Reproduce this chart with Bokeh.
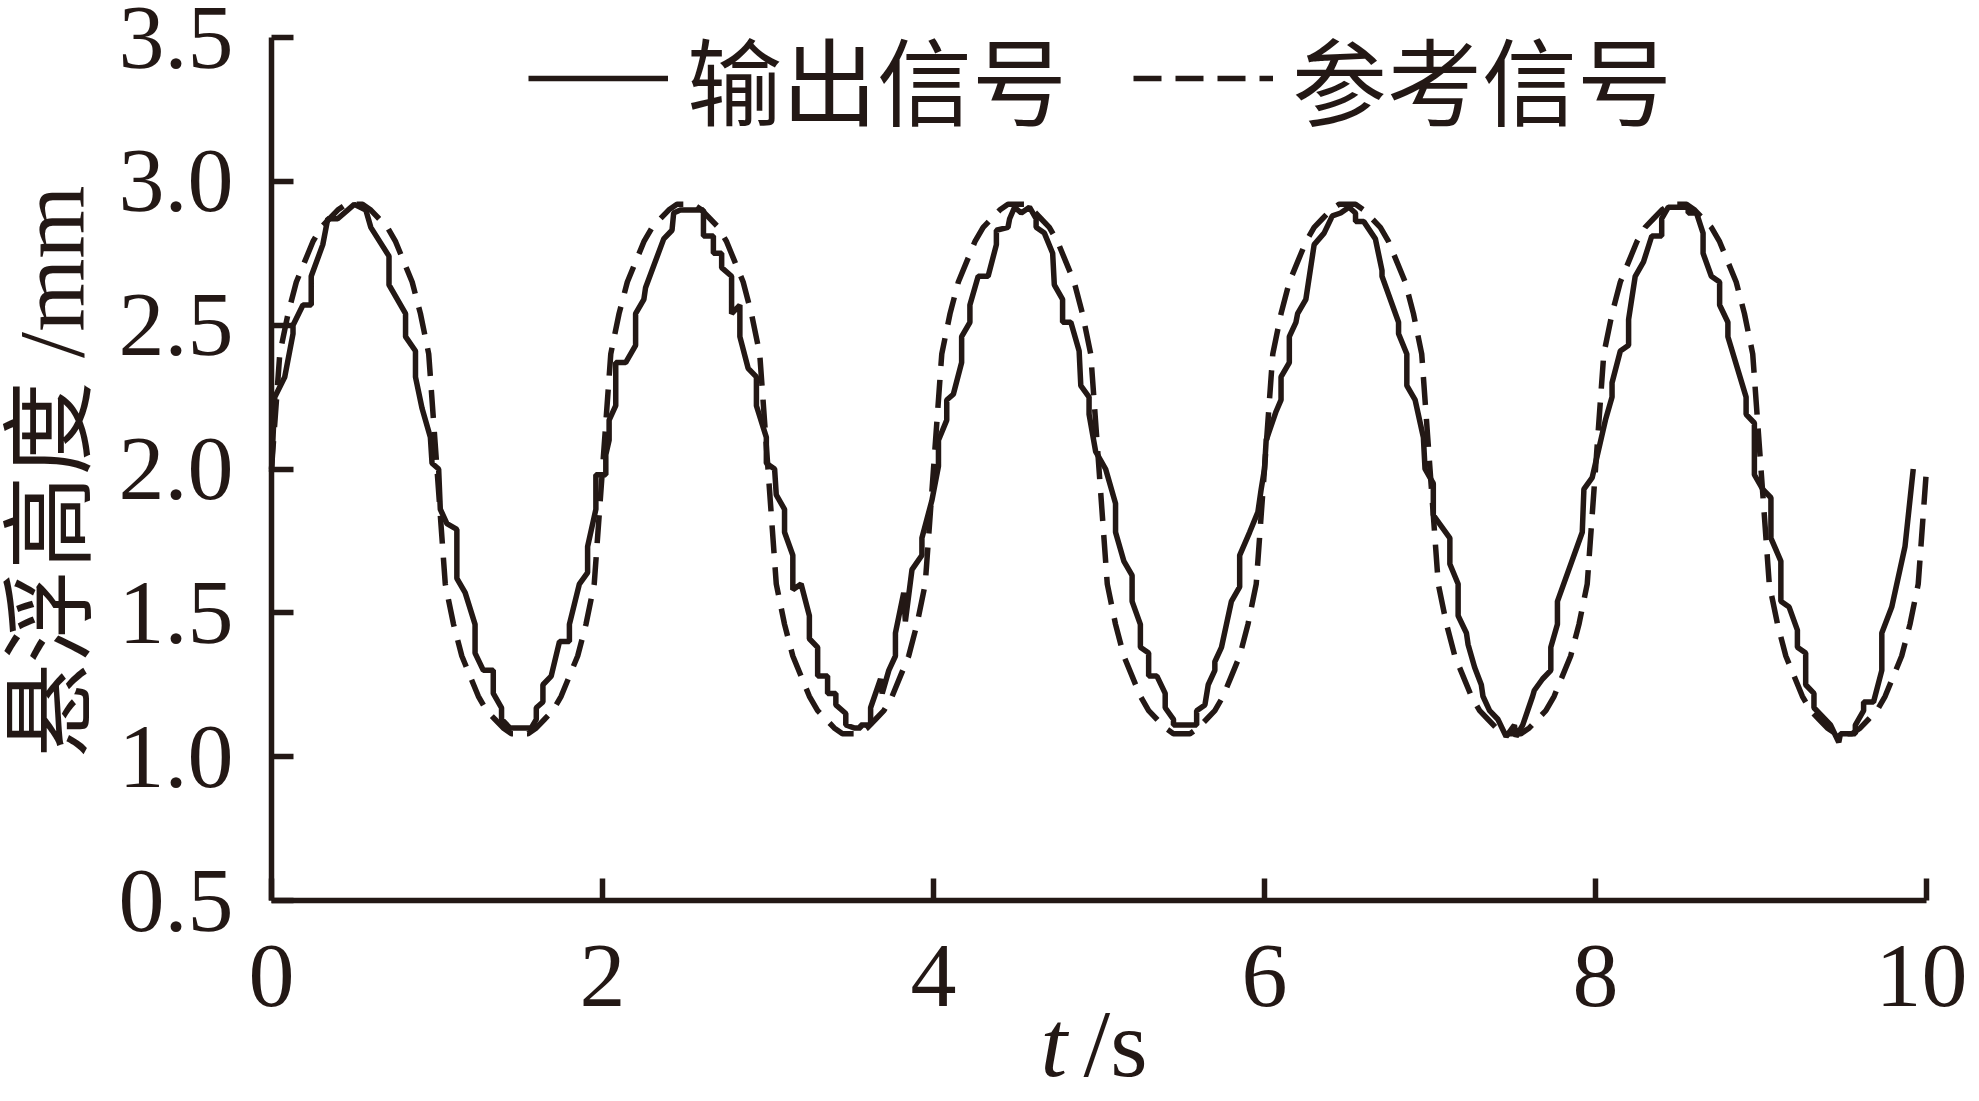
from bokeh.plotting import figure
from bokeh.models import (Range1d, FixedTicker, NumeralTickFormatter, Legend,
                          LegendItem, Label)
from bokeh.embed import file_html
from bokeh.resources import INLINE

# ---------------- data ----------------
x_ticks = [0, 2, 4, 6, 8, 10]
y_ticks = [0.5, 1.0, 1.5, 2.0, 2.5, 3.0, 3.5]
x_lim = (0, 10)
y_lim = (0.5, 3.5)
legend_labels = ["输出信号", "参考信号"]
y_label = "悬浮高度 /mm"
x_label_var = "t"
x_label_unit = "/s"

# output signal (solid, stair-stepped measurement)
out_t = [
    0.00, 0.01, 0.02, 0.08, 0.13, 0.13, 0.19, 0.24, 0.24, 0.31,
    0.34, 0.40, 0.50, 0.57, 0.60, 0.71, 0.71, 0.81, 0.81, 0.87,
    0.87, 0.91, 0.96, 0.97, 1.01, 1.02, 1.06, 1.12, 1.12, 1.17,
    1.23, 1.23, 1.28, 1.34, 1.34, 1.39, 1.39, 1.44, 1.57, 1.60,
    1.60, 1.64, 1.64, 1.69, 1.74, 1.80, 1.80, 1.86, 1.91, 1.91,
    1.96, 1.96, 2.02,
    2.02, 2.04, 2.04, 2.08, 2.08, 2.14, 2.20, 2.20, 2.25, 2.26,
    2.37, 2.42, 2.43, 2.47, 2.61, 2.61, 2.67, 2.67, 2.72, 2.72,
    2.78, 2.78, 2.83, 2.83, 2.88, 2.93, 2.93, 2.99, 2.99, 3.04,
    3.05, 3.10, 3.10, 3.15, 3.15, 3.20, 3.25, 3.25, 3.30, 3.30,
    3.36, 3.36, 3.41, 3.41, 3.47, 3.47, 3.52, 3.56, 3.56, 3.62,
    3.62, 3.68, 3.69, 3.73, 3.77, 3.77, 3.82, 3.83, 3.87, 3.93,
    3.93, 3.99, 4.03,
    4.03, 4.08, 4.08, 4.12, 4.17, 4.17, 4.22, 4.22, 4.27, 4.33,
    4.38, 4.38, 4.45, 4.46, 4.49, 4.53, 4.58, 4.62, 4.62, 4.67,
    4.72, 4.73, 4.78, 4.78, 4.83, 4.88, 4.89, 4.94, 4.94, 4.98,
    5.04, 5.10, 5.10, 5.15, 5.20, 5.20, 5.25, 5.25, 5.30, 5.30,
    5.35, 5.40, 5.40, 5.45, 5.45, 5.59, 5.59, 5.64, 5.66, 5.70,
    5.70, 5.74, 5.80, 5.85, 5.85, 5.91, 5.96, 5.98, 6.00,
    6.01, 6.07, 6.10, 6.10, 6.15, 6.15, 6.19, 6.20, 6.25, 6.30,
    6.36, 6.41, 6.46, 6.51, 6.55, 6.55, 6.60, 6.67, 6.71, 6.71,
    6.81, 6.81, 6.86, 6.86, 6.91, 6.96, 6.97, 7.02, 7.02, 7.12,
    7.12, 7.17, 7.17, 7.22, 7.23, 7.27, 7.31, 7.32, 7.36, 7.41,
    7.46, 7.51, 7.52, 7.56, 7.62, 7.63, 7.68, 7.73, 7.73, 7.77,
    7.77, 7.92, 7.93, 7.98,
    8.06, 8.10, 8.10, 8.15, 8.20, 8.20, 8.24, 8.29, 8.34, 8.40,
    8.40, 8.44, 8.56, 8.56, 8.61, 8.65, 8.65, 8.70, 8.75, 8.75,
    8.80, 8.80, 8.91, 8.91, 8.96, 8.96, 9.01, 9.06, 9.06, 9.12,
    9.12, 9.17, 9.22, 9.22, 9.27, 9.27, 9.32, 9.32, 9.42, 9.47,
    9.48, 9.57, 9.57, 9.62, 9.62, 9.68, 9.73, 9.73, 9.79, 9.87,
    9.92,
]
out_v = [
    1.99, 2.12, 2.25, 2.32, 2.47, 2.50, 2.57, 2.57, 2.67, 2.78,
    2.87, 2.87, 2.92, 2.90, 2.84, 2.74, 2.64, 2.54, 2.46, 2.41,
    2.32, 2.21, 2.11, 2.02, 2.00, 1.86, 1.81, 1.79, 1.62, 1.57,
    1.46, 1.36, 1.30, 1.30, 1.22, 1.17, 1.13, 1.10, 1.10, 1.13,
    1.17, 1.19, 1.25, 1.28, 1.40, 1.40, 1.46, 1.60, 1.64, 1.73,
    1.86, 1.98, 1.98,
    2.05, 2.10, 2.17, 2.22, 2.37, 2.37, 2.43, 2.54, 2.59, 2.63,
    2.80, 2.83, 2.89, 2.90, 2.90, 2.81, 2.81, 2.75, 2.75, 2.70,
    2.67, 2.54, 2.57, 2.46, 2.35, 2.32, 2.22, 2.11, 2.02, 2.00,
    1.91, 1.86, 1.78, 1.70, 1.58, 1.60, 1.49, 1.41, 1.38, 1.28,
    1.28, 1.22, 1.22, 1.18, 1.15, 1.11, 1.10, 1.10, 1.11, 1.11,
    1.17, 1.27, 1.22, 1.30, 1.35, 1.43, 1.57, 1.47, 1.65, 1.70,
    1.76, 1.89, 2.01,
    2.10, 2.17, 2.24, 2.26, 2.37, 2.46, 2.51, 2.57, 2.67, 2.67,
    2.78, 2.83, 2.84, 2.87, 2.91, 2.89, 2.91, 2.87, 2.84, 2.82,
    2.75, 2.64, 2.59, 2.51, 2.51, 2.41, 2.29, 2.25, 2.19, 2.06,
    2.00, 1.88, 1.78, 1.68, 1.63, 1.54, 1.46, 1.38, 1.36, 1.28,
    1.28, 1.22, 1.17, 1.13, 1.11, 1.11, 1.16, 1.18, 1.25, 1.30,
    1.33, 1.38, 1.54, 1.59, 1.70, 1.78, 1.85, 1.93, 2.00,
    2.10, 2.20, 2.24, 2.32, 2.37, 2.46, 2.51, 2.54, 2.59, 2.78,
    2.82, 2.88, 2.89, 2.91, 2.89, 2.86, 2.86, 2.80, 2.69, 2.67,
    2.51, 2.47, 2.40, 2.29, 2.24, 2.11, 2.00, 1.95, 1.84, 1.76,
    1.67, 1.60, 1.49, 1.43, 1.39, 1.31, 1.25, 1.21, 1.16, 1.13,
    1.07, 1.11, 1.07, 1.11, 1.21, 1.23, 1.27, 1.30, 1.38, 1.46,
    1.54, 1.78, 1.93, 1.97,
    2.17, 2.25, 2.30, 2.41, 2.43, 2.52, 2.67, 2.72, 2.81, 2.81,
    2.87, 2.91, 2.91, 2.89, 2.89, 2.82, 2.75, 2.67, 2.65, 2.57,
    2.51, 2.46, 2.25, 2.19, 2.16, 1.98, 1.93, 1.90, 1.76, 1.68,
    1.54, 1.52, 1.44, 1.38, 1.36, 1.25, 1.22, 1.17, 1.11, 1.05,
    1.08, 1.08, 1.11, 1.16, 1.19, 1.19, 1.30, 1.43, 1.52, 1.73,
    2.00,
]

# reference signal (dashed, broad-topped wave), sampled every 0.05 s
ref_t = [
    0.00, 0.05, 0.10, 0.15, 0.20, 0.25, 0.30, 0.35, 0.40, 0.45,
    0.50, 0.55, 0.60, 0.65, 0.70, 0.75, 0.80, 0.85, 0.90, 0.95,
    1.00, 1.05, 1.10, 1.15, 1.20, 1.25, 1.30, 1.35, 1.40, 1.45,
    1.50, 1.55, 1.60, 1.65, 1.70, 1.75, 1.80, 1.85, 1.90, 1.95,
    2.00, 2.05, 2.10, 2.15, 2.20, 2.25, 2.30, 2.35, 2.40, 2.45,
    2.50, 2.55, 2.60, 2.65, 2.70, 2.75, 2.80, 2.85, 2.90, 2.95,
    3.00, 3.05, 3.10, 3.15, 3.20, 3.25, 3.30, 3.35, 3.40, 3.45,
    3.50, 3.55, 3.60, 3.65, 3.70, 3.75, 3.80, 3.85, 3.90, 3.95,
    4.00, 4.05, 4.10, 4.15, 4.20, 4.25, 4.30, 4.35, 4.40, 4.45,
    4.50, 4.55, 4.60, 4.65, 4.70, 4.75, 4.80, 4.85, 4.90, 4.95,
    5.00, 5.05, 5.10, 5.15, 5.20, 5.25, 5.30, 5.35, 5.40, 5.45,
    5.50, 5.55, 5.60, 5.65, 5.70, 5.75, 5.80, 5.85, 5.90, 5.95,
    6.00, 6.05, 6.10, 6.15, 6.20, 6.25, 6.30, 6.35, 6.40, 6.45,
    6.50, 6.55, 6.60, 6.65, 6.70, 6.75, 6.80, 6.85, 6.90, 6.95,
    7.00, 7.05, 7.10, 7.15, 7.20, 7.25, 7.30, 7.35, 7.40, 7.45,
    7.50, 7.55, 7.60, 7.65, 7.70, 7.75, 7.80, 7.85, 7.90, 7.95,
    8.00, 8.05, 8.10, 8.15, 8.20, 8.25, 8.30, 8.35, 8.40, 8.45,
    8.50, 8.55, 8.60, 8.65, 8.70, 8.75, 8.80, 8.85, 8.90, 8.95,
    9.00, 9.05, 9.10, 9.15, 9.20, 9.25, 9.30, 9.35, 9.40, 9.45,
    9.50, 9.55, 9.60, 9.65, 9.70, 9.75, 9.80, 9.85, 9.90, 9.95,
    10.00,
]
ref_v = [
    2.00, 2.40, 2.54, 2.65, 2.72, 2.79, 2.84, 2.87, 2.90, 2.92,
    2.92, 2.92, 2.90, 2.87, 2.84, 2.79, 2.72, 2.65, 2.54, 2.40,
    2.00, 1.60, 1.46, 1.35, 1.28, 1.21, 1.16, 1.13, 1.10, 1.08,
    1.08, 1.08, 1.10, 1.13, 1.16, 1.21, 1.28, 1.35, 1.46, 1.60,
    2.00, 2.40, 2.54, 2.65, 2.72, 2.79, 2.84, 2.87, 2.90, 2.92,
    2.92, 2.92, 2.90, 2.87, 2.84, 2.79, 2.72, 2.65, 2.54, 2.40,
    2.00, 1.60, 1.46, 1.35, 1.28, 1.21, 1.16, 1.13, 1.10, 1.08,
    1.08, 1.08, 1.10, 1.13, 1.16, 1.21, 1.28, 1.35, 1.46, 1.60,
    2.00, 2.40, 2.54, 2.65, 2.72, 2.79, 2.84, 2.87, 2.90, 2.92,
    2.92, 2.92, 2.90, 2.87, 2.84, 2.79, 2.72, 2.65, 2.54, 2.40,
    2.00, 1.60, 1.46, 1.35, 1.28, 1.21, 1.16, 1.13, 1.10, 1.08,
    1.08, 1.08, 1.10, 1.13, 1.16, 1.21, 1.28, 1.35, 1.46, 1.60,
    2.00, 2.40, 2.54, 2.65, 2.72, 2.79, 2.84, 2.87, 2.90, 2.92,
    2.92, 2.92, 2.90, 2.87, 2.84, 2.79, 2.72, 2.65, 2.54, 2.40,
    2.00, 1.60, 1.46, 1.35, 1.28, 1.21, 1.16, 1.13, 1.10, 1.08,
    1.08, 1.08, 1.10, 1.13, 1.16, 1.21, 1.28, 1.35, 1.46, 1.60,
    2.00, 2.40, 2.54, 2.65, 2.72, 2.79, 2.84, 2.87, 2.90, 2.92,
    2.92, 2.92, 2.90, 2.87, 2.84, 2.79, 2.72, 2.65, 2.54, 2.40,
    2.00, 1.60, 1.46, 1.35, 1.28, 1.21, 1.16, 1.13, 1.10, 1.08,
    1.08, 1.08, 1.10, 1.13, 1.16, 1.21, 1.28, 1.35, 1.46, 1.60,
    2.00,
]

assert len(out_t) == len(out_v)
assert len(ref_t) == len(ref_v)

# ---------------- layout (canvas pixels) ----------------
W, H = 1967, 1085
AX_L, AX_R, AX_T, AX_B = 271, 1926, 37, 900   # where the axes box sits

# the frame fills the whole canvas; the axes are drawn at fixed data
# locations so that every text (axis titles included) lies inside it
sx = (AX_R - AX_L) / (x_lim[1] - x_lim[0])
sy = (AX_B - AX_T) / (y_lim[1] - y_lim[0])
x_range = Range1d(x_lim[0] - AX_L / sx, x_lim[1] + (W - AX_R) / sx)
y_range = Range1d(y_lim[0] - (H - AX_B) / sy, y_lim[1] + AX_T / sy)

INK = "#231815"
SERIF = "'Liberation Serif', 'Noto Sans CJK SC'"
CJK = "'Noto Sans CJK SC'"

p = figure(width=W, height=H, output_backend="svg", toolbar_location=None,
           x_range=x_range, y_range=y_range, min_border=0)
p.background_fill_color = "white"
p.border_fill_color = "white"
p.outline_line_color = None
p.xgrid.visible = False
p.ygrid.visible = False

r_out = p.line(out_t, out_v, line_color=INK, line_width=5.5)
r_ref = p.line(ref_t, ref_v, line_color=INK, line_width=5.5, line_dash="28 14")

for ax in (p.xaxis[0], p.yaxis[0]):
    ax.axis_line_color = INK
    ax.axis_line_width = 5.5
    ax.major_tick_line_color = INK
    ax.major_tick_line_width = 5.5
    ax.major_tick_in = 22
    ax.major_tick_out = 0
    ax.minor_tick_line_color = None
    ax.major_label_text_font = "Liberation Serif"
    ax.major_label_text_font_size = "92px"
    ax.major_label_text_color = INK

p.xaxis.fixed_location = y_lim[0]
p.xaxis.bounds = x_lim
p.yaxis.fixed_location = x_lim[0]
p.yaxis.bounds = y_lim
p.xaxis.ticker = FixedTicker(ticks=x_ticks)
p.yaxis.ticker = FixedTicker(ticks=y_ticks)
p.yaxis.formatter = NumeralTickFormatter(format="0.0")
p.xaxis.major_label_standoff = 45
p.yaxis.major_label_standoff = 38

# y-axis title (rotated), x-axis title with italic variable
p.add_layout(Label(x=50, y=H - 471, x_units="screen", y_units="screen",
                   text=y_label, angle=90, angle_units="deg",
                   text_font=SERIF, text_font_size="94px", text_color=INK,
                   text_align="center", text_baseline="middle"))
p.add_layout(Label(x=1040, y=H - 1043, x_units="screen", y_units="screen",
                   text=x_label_var, text_font="Liberation Serif",
                   text_font_style="italic", text_font_size="96px",
                   text_color=INK, text_baseline="alphabetic"))
p.add_layout(Label(x=1083, y=H - 1043, x_units="screen", y_units="screen",
                   text=x_label_unit, text_font="Liberation Serif",
                   text_font_size="96px",
                   text_color=INK, text_baseline="alphabetic"))

legend = Legend(items=[LegendItem(label=legend_labels[0], renderers=[r_out]),
                       LegendItem(label=legend_labels[1], renderers=[r_ref])],
                orientation="horizontal", location=(528, H - 146),
                glyph_width=140, glyph_height=40, label_standoff=19,
                spacing=66, padding=0, margin=0,
                border_line_color=None, background_fill_alpha=0,
                label_text_font=CJK, label_text_font_size="95px",
                label_text_color=INK)
p.add_layout(legend)

open("out.html", "w").write(file_html(p, INLINE))
